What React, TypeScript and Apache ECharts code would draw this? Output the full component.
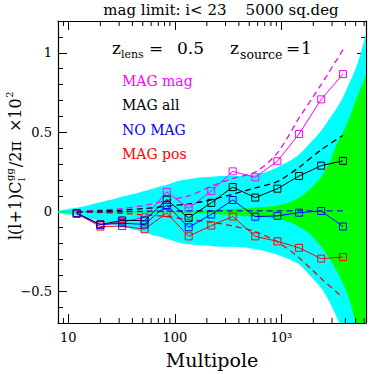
import React, { useEffect, useRef } from 'react';
import * as echarts from 'echarts';

// ---- data ----
const multipoles = [12, 20, 32, 52, 84, 135, 220, 350, 570, 920, 1470, 2370, 3800];

const magMag = [-0.01, -0.08, -0.065, -0.035, 0.125, 0.022, 0.13, 0.254, 0.217, 0.318, 0.489, 0.707, 0.866];
const magAll = [-0.01, -0.08, -0.055, -0.055, 0.076, -0.039, 0.056, 0.155, 0.089, 0.145, 0.225, 0.29, 0.32];
const noMag = [-0.01, -0.082, -0.072, -0.08, 0.042, -0.098, -0.017, 0.074, -0.031, -0.026, -0.006, 0.005, -0.093];
const magPos = [-0.012, -0.093, -0.09, -0.11, -0.008, -0.155, -0.087, -0.03, -0.155, -0.186, -0.227, -0.295, -0.285];

const thMagMag = [0.0, 0.01, 0.02, 0.04, 0.07, 0.1, 0.16, 0.21, 0.25, 0.37, 0.59, 0.8, 1.02];
const thMagAll = [0.0, 0.005, 0.01, 0.02, 0.035, 0.05, 0.075, 0.11, 0.15, 0.19, 0.28, 0.39, 0.48];
const thNoMag = [0.0, 0.0, 0.0, 0.003, 0.004, 0.005, 0.005, 0.005, 0.005, 0.005, 0.005, 0.005, 0.005];
const thMagPos = [0.0, -0.005, -0.01, -0.02, -0.03, -0.05, -0.065, -0.09, -0.125, -0.19, -0.29, -0.42, -0.54];

const bandL = [8, 10, 12, 15, 20, 25, 32, 40, 52, 65, 84, 110, 135, 170, 220, 280, 350, 450, 570, 720, 920, 1200, 1470, 1850, 2370, 2800, 3300, 3800, 4300, 5000, 5600, 6250];
const cyanUpper = [0.006, 0.018, 0.025, 0.04, 0.06, 0.075, 0.095, 0.11, 0.13, 0.15, 0.17, 0.195, 0.205, 0.215, 0.22, 0.225, 0.225, 0.225, 0.235, 0.25, 0.28, 0.32, 0.36, 0.43, 0.51, 0.58, 0.65, 0.72, 0.8, 0.9, 1.0, 1.12];
const cyanLower = [-0.006, -0.018, -0.025, -0.04, -0.06, -0.075, -0.095, -0.11, -0.13, -0.15, -0.17, -0.195, -0.205, -0.21, -0.215, -0.22, -0.22, -0.225, -0.235, -0.25, -0.27, -0.3, -0.33, -0.4, -0.48, -0.56, -0.66, -0.76, -0.86, -0.98, -1.08, -1.2];
const greenUpper = [0.005, 0.005, 0.005, 0.005, 0.005, 0.005, 0.005, 0.005, 0.005, 0.005, 0.005, 0.005, 0.005, 0.007, 0.01, 0.014, 0.018, 0.022, 0.026, 0.032, 0.04, 0.06, 0.09, 0.14, 0.22, 0.3, 0.42, 0.5, 0.58, 0.7, 0.78, 0.86];
const greenLower = [-0.005, -0.005, -0.005, -0.005, -0.005, -0.005, -0.005, -0.005, -0.005, -0.005, -0.005, -0.005, -0.005, -0.008, -0.012, -0.018, -0.022, -0.028, -0.032, -0.038, -0.045, -0.065, -0.095, -0.14, -0.22, -0.29, -0.37, -0.45, -0.54, -0.7, -0.82, -0.95];

const xMajorTicks = [10, 100, 1000];
const xMinorTicks = [9, 20, 30, 40, 50, 60, 70, 80, 90, 200, 300, 400, 500, 600, 700, 800, 900, 2000, 3000, 4000, 5000, 6000];

const legendLabels = ['MAG mag', 'MAG all', 'NO MAG', 'MAG pos'];
const titleText = 'mag limit: i< 23    5000 sq.deg';

// ---- styles ----
const FONT = 'DejaVu Serif';
const C_MAG = '#ff00ff';
const C_ALL = '#000000';
const C_NO = '#0000ff';
const C_POS = '#ff0000';
const legendColors = [C_MAG, C_ALL, C_NO, C_POS];
const X_MIN = 8;
const X_MAX = 6250;
const Y_MIN = -0.7;
const Y_MAX = 1.2;

function measure(text: string, size: number): number {
  const ctx = document.createElement('canvas').getContext('2d');
  if (!ctx) return text.length * size * 0.6;
  ctx.font = `${size}px "${FONT}"`;
  return ctx.measureText(text).width;
}

const pairs = (xs: number[], ys: number[]) => xs.map((x, i) => [x, ys[i]]);

function bandSeries(ys: number[], color: string) {
  return {
    type: 'line',
    data: pairs(bandL, ys),
    symbol: 'none',
    smooth: 0.3,
    lineStyle: { width: 0, opacity: 0 },
    areaStyle: { color, opacity: 1, origin: 0 },
    silent: true,
  };
}

function theorySeries(ys: number[], color: string) {
  return {
    type: 'line',
    data: pairs(multipoles, ys),
    symbol: 'none',
    smooth: 0.3,
    lineStyle: { color, width: 1.3, type: [6, 4] },
    silent: true,
  };
}

function dataSeries(ys: number[], color: string) {
  return {
    type: 'line',
    data: pairs(multipoles, ys),
    symbol: 'rect',
    symbolSize: 7,
    showAllSymbol: true,
    lineStyle: { color, width: 1 },
    itemStyle: { color: 'rgba(0,0,0,0)', borderColor: color, borderWidth: 1 },
    silent: true,
  };
}

function txt(text: string, x: number, y: number, size: number, color = '#000') {
  return {
    type: 'text',
    x,
    y,
    silent: true,
    style: { text, fill: color, fontSize: size, fontFamily: FONT, verticalAlign: 'middle' },
  };
}

function yTitle() {
  const main = 16;
  const small = 10;
  const children: any[] = [];
  let u = 0;
  children.push(txt('l(l+1)C', u, 0, main));
  u += measure('l(l+1)C', main) + 0.5;
  children.push(txt('gg', u, -6, small));
  children.push(txt('l', u, 6, small));
  u += measure('gg', small) + 1;
  children.push(txt('/2π', u, 0, main));
  u += measure('/2π', main) + 9;
  children.push(txt('×10', u, 0, main));
  u += measure('×10', main) + 0.5;
  children.push(txt('2', u, -6, small));
  return { type: 'group', x: 15, y: 240, rotation: Math.PI / 2, silent: true, children };
}

function App() {
  const ref = useRef<HTMLDivElement>(null);
  useEffect(() => {
    if (!ref.current) return;
    const chart = echarts.init(ref.current, null, { renderer: 'svg' });

    const axisLine = { show: true, onZero: false, lineStyle: { color: '#000', width: 1.2 } };
    const xLabelFmt = (v: number) => {
      const r = Math.round(v);
      if (r === 1000) return '10³';
      if (xMajorTicks.includes(r)) return String(r);
      return '';
    };
    const yLabelFmt = (v: number) => {
      const r = Math.round(v * 10) / 10;
      if (Math.abs(r * 2 - Math.round(r * 2)) > 1e-6) return '';
      return r < 0 ? '\u2212' + String(-r) : String(r);
    };

    // title: fit the reference's span (x 100 .. 342)
    const titleSize = Math.min(15, (242 / measure(titleText, 100)) * 100);
    const titleX = 221 - measure(titleText, titleSize) / 2;

    const option: any = {
      animation: false,
      backgroundColor: '#fff',
      grid: { left: 58, right: 8, top: 21, bottom: 46, containLabel: false },
      xAxis: [
        {
          type: 'log', logBase: 10, min: X_MIN, max: X_MAX, position: 'bottom',
          axisLine, splitLine: { show: false },
          axisTick: { show: true, inside: true, length: 9, lineStyle: { color: '#000', width: 1 } },
          axisLabel: { formatter: xLabelFmt, color: '#000', fontFamily: FONT, fontSize: 13, margin: 8, showMinLabel: false, showMaxLabel: false },
          name: 'Multipole', nameLocation: 'middle', nameGap: 27,
          nameTextStyle: { color: '#000', fontFamily: FONT, fontSize: 19 },
        },
        {
          type: 'log', logBase: 10, min: X_MIN, max: X_MAX, position: 'top',
          axisLine, splitLine: { show: false },
          axisTick: { show: true, inside: true, length: 9, lineStyle: { color: '#000', width: 1 } },
          axisLabel: { show: false },
        },
      ],
      yAxis: [
        {
          type: 'value', min: Y_MIN, max: Y_MAX, splitNumber: 4, position: 'left',
          axisLine, splitLine: { show: false }, minorSplitLine: { show: false },
          axisTick: { show: true, inside: true, length: 9, lineStyle: { color: '#000', width: 1 } },
          minorTick: { show: true, splitNumber: 5, length: 5, lineStyle: { color: '#000', width: 1 } },
          axisLabel: { formatter: yLabelFmt, color: '#000', fontFamily: FONT, fontSize: 13, margin: 6, showMinLabel: false, showMaxLabel: false },
        },
        {
          type: 'value', min: Y_MIN, max: Y_MAX, splitNumber: 4, position: 'right',
          axisLine, splitLine: { show: false }, minorSplitLine: { show: false },
          axisTick: { show: true, inside: true, length: 9, lineStyle: { color: '#000', width: 1 } },
          minorTick: { show: true, splitNumber: 5, length: 5, lineStyle: { color: '#000', width: 1 } },
          axisLabel: { show: false },
        },
      ],
      series: [
        bandSeries(cyanUpper, '#00ffff'),
        bandSeries(cyanLower, '#00ffff'),
        bandSeries(greenUpper, '#00ff00'),
        bandSeries(greenLower, '#00ff00'),
        theorySeries(thMagMag, C_MAG),
        theorySeries(thMagAll, C_ALL),
        theorySeries(thMagPos, C_POS),
        theorySeries(thNoMag, C_NO),
        dataSeries(magMag, C_MAG),
        dataSeries(magAll, C_ALL),
        dataSeries(magPos, C_POS),
        dataSeries(noMag, C_NO),
        {
          type: 'custom',
          data: xMinorTicks.map((l) => [l, 0]),
          encode: { x: 0, y: 1 },
          silent: true,
          clip: false,
          z: 10,
          renderItem: (params: any, api: any) => {
            const l = api.value(0);
            const b = api.coord([l, Y_MIN]);
            const t = api.coord([l, Y_MAX]);
            const st = { stroke: '#000', lineWidth: 1 };
            return {
              type: 'group',
              children: [
                { type: 'line', shape: { x1: b[0], y1: b[1], x2: b[0], y2: b[1] - 5 }, style: st },
                { type: 'line', shape: { x1: t[0], y1: t[1], x2: t[0], y2: t[1] + 5 }, style: st },
              ],
            };
          },
        },
      ],
      graphic: [
        txt(titleText, titleX, 10, titleSize),
        txt('z', 112, 48, 17),
        txt('lens', 121, 54, 11),
        txt('=', 149, 48, 17),
        txt('0.5', 177, 48, 17),
        txt('z', 230, 48, 17),
        txt('source', 240, 54, 12.5),
        txt('=', 286, 48, 17),
        txt('1', 301, 48, 17),
        ...legendLabels.map((s, i) => txt(s, 122, 81 + 24.3 * i, 14, legendColors[i])),
        yTitle(),
      ],
    };
    chart.setOption(option);
    return () => chart.dispose();
  }, []);
  return <div ref={ref} style={{ width: 374, height: 374, position: 'absolute', left: 0, top: 0 }} />;
}

export default App;
